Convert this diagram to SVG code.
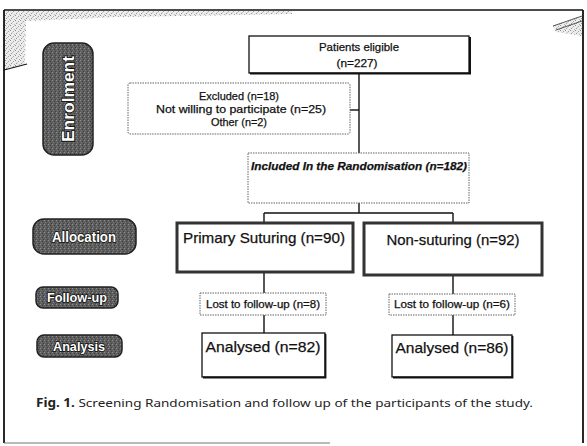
<svg xmlns="http://www.w3.org/2000/svg" width="587" height="446" viewBox="0 0 587 446">
<defs>
<pattern id="stip" width="5" height="5" patternUnits="userSpaceOnUse">
<rect width="5" height="5" fill="#ececec"/>
<rect x="0" y="0" width="1" height="1" fill="#8c8c8c"/>
<rect x="3" y="1" width="1" height="1" fill="#a5a5a5"/>
<rect x="1" y="3" width="1" height="1" fill="#999"/>
<rect x="4" y="4" width="1" height="1" fill="#b5b5b5"/>
<rect x="2" y="2" width="1" height="1" fill="#c5c5c5"/>
</pattern>
<pattern id="dark" width="4" height="4" patternUnits="userSpaceOnUse">
<rect width="4" height="4" fill="#5e5e5e"/>
<rect x="0" y="0" width="1" height="1" fill="#8e8e8e"/>
<rect x="2" y="1" width="1" height="1" fill="#3a3a3a"/>
<rect x="1" y="2" width="1" height="1" fill="#7a7a7a"/>
<rect x="3" y="3" width="1" height="1" fill="#444"/>
</pattern>
</defs>
<style>
.pill{fill:url(#dark);stroke:#222;stroke-width:1.5}
.pt{font-family:"Liberation Sans",Arial,sans-serif;font-weight:bold;fill:#fff;stroke:#111;stroke-width:1.6;paint-order:stroke;text-anchor:middle}
.solid{fill:#fff;stroke:#111;stroke-width:1.3}
.dot{fill:#fff;stroke:#666;stroke-width:1;stroke-dasharray:1.5 1}
.thick{fill:#fff;stroke:#333;stroke-width:3}
.t{font-family:"Liberation Sans",Arial,sans-serif;fill:#111;stroke:#111;stroke-width:0.25;text-anchor:middle}
.ln{stroke:#111;stroke-width:1.4;fill:none}
</style>
<rect width="587" height="446" fill="#fff"/>
<g id="scan">
<path d="M4,11 L292,11 L292,14 L120,17 L26,21 L25,64 L4,70 Z" fill="url(#stip)"/>
<path d="M4,70 L27,64" stroke="#111" stroke-width="1.2"/>
<path d="M553,26 L582,16 L582,36 L556,32 Z" fill="url(#stip)"/>
<path d="M553,26 L582,16 M556,30 L582,21" stroke="#444" stroke-width="0.9"/>
<path d="M4,10 L583,10" stroke="#111" stroke-width="1.6"/>
<path d="M4,10 L4,443" stroke="#111" stroke-width="1.8"/>
<path d="M583,10 L583,443" stroke="#111" stroke-width="1.8"/>
<path d="M4,443 L330,443" stroke="#777" stroke-width="1.2"/>
</g>
<g id="enrolment">
<rect class="pill" x="43" y="43" width="50" height="112" rx="11"/>
<text class="pt" x="0" y="0" font-size="17" transform="translate(74,99) rotate(-90)" textLength="86" lengthAdjust="spacingAndGlyphs">Enrolment</text>
</g>
<g id="allocation">
<rect class="pill" x="33" y="219" width="103" height="35" rx="11"/>
<text class="pt" x="84" y="242" font-size="15" textLength="64" lengthAdjust="spacingAndGlyphs">Allocation</text>
</g>
<g id="followup">
<rect class="pill" x="36" y="287" width="82" height="21" rx="7"/>
<text class="pt" x="77" y="302" font-size="12.5" textLength="60" lengthAdjust="spacingAndGlyphs">Follow-up</text>
</g>
<g id="analysis">
<rect class="pill" x="37" y="335" width="85" height="22" rx="7"/>
<text class="pt" x="79" y="351" font-size="12.5" textLength="52" lengthAdjust="spacingAndGlyphs">Analysis</text>
</g>
<g id="connectors">
<path class="ln" d="M359,73 L359,153"/>
<path class="ln" d="M350,110 L359,110"/>
<path class="ln" d="M359,203 L359,213 M264,213 L453,213 M264,213 L264,223 M453,213 L453,223"/>
<path class="ln" d="M264,272 L264,293 M264,315 L264,333"/>
<path class="ln" d="M453,275 L453,294 M453,315 L453,335"/>
</g>
<g id="eligible">
<rect class="solid" x="249" y="36" width="220" height="37"/>
<path d="M250,73.5 L470,73.5 L470,37" stroke="#111" stroke-width="2" fill="none"/>
<text class="t" x="359" y="51" font-size="11" textLength="80" lengthAdjust="spacingAndGlyphs">Patients eligible</text>
<text class="t" x="357" y="67" font-size="11" textLength="41" lengthAdjust="spacingAndGlyphs">(n=227)</text>
</g>
<g id="excluded">
<rect class="dot" x="128" y="83" width="222" height="51" rx="2"/>
<text class="t" x="239" y="100" font-size="11" textLength="80" lengthAdjust="spacingAndGlyphs">Excluded (n=18)</text>
<text class="t" x="241" y="113" font-size="11" textLength="170" lengthAdjust="spacingAndGlyphs">Not willing to participate (n=25)</text>
<text class="t" x="239" y="126" font-size="11" textLength="56" lengthAdjust="spacingAndGlyphs">Other (n=2)</text>
</g>
<g id="included">
<rect class="dot" x="248" y="153" width="221" height="50"/>
<text class="t" x="359" y="170" font-size="11" font-weight="bold" font-style="italic" textLength="216" lengthAdjust="spacingAndGlyphs">Included In the Randomisation (n=182)</text>
</g>
<g id="primary">
<rect class="thick" x="177" y="223" width="176" height="49"/>
<text class="t" x="264" y="243" font-size="15" textLength="162" lengthAdjust="spacingAndGlyphs">Primary Suturing (n=90)</text>
</g>
<g id="nonsuturing">
<rect class="thick" x="364" y="223" width="178" height="52"/>
<text class="t" x="453" y="245" font-size="15" textLength="133" lengthAdjust="spacingAndGlyphs">Non-suturing (n=92)</text>
</g>
<g id="lost1">
<rect class="dot" x="200" y="293" width="126" height="22"/>
<text class="t" x="263" y="308" font-size="10" textLength="114" lengthAdjust="spacingAndGlyphs">Lost to follow-up (n=8)</text>
</g>
<g id="lost2">
<rect class="dot" x="389" y="294" width="126" height="21"/>
<text class="t" x="452" y="308" font-size="10" textLength="116" lengthAdjust="spacingAndGlyphs">Lost to follow-up (n=6)</text>
</g>
<g id="analysed1">
<rect class="solid" x="202" y="333" width="123" height="44"/>
<path d="M203,377.5 L325.5,377.5 L325.5,334" stroke="#111" stroke-width="1.8" fill="none"/>
<text class="t" x="263" y="352" font-size="15" textLength="115" lengthAdjust="spacingAndGlyphs">Analysed (n=82)</text>
</g>
<g id="analysed2">
<rect class="solid" x="392" y="335" width="120" height="42"/>
<path d="M393,377.5 L512.5,377.5 L512.5,336" stroke="#111" stroke-width="1.8" fill="none"/>
<text class="t" x="452" y="353" font-size="15" textLength="113" lengthAdjust="spacingAndGlyphs">Analysed (n=86)</text>
</g>
<g id="caption">
<text x="36" y="407" font-family="'Noto Sans','Open Sans',sans-serif" font-size="11.5" fill="#222" textLength="497" lengthAdjust="spacingAndGlyphs"><tspan font-weight="bold">Fig. 1.</tspan> Screening Randomisation and follow up of the participants of the study.</text>
</g>
</svg>
